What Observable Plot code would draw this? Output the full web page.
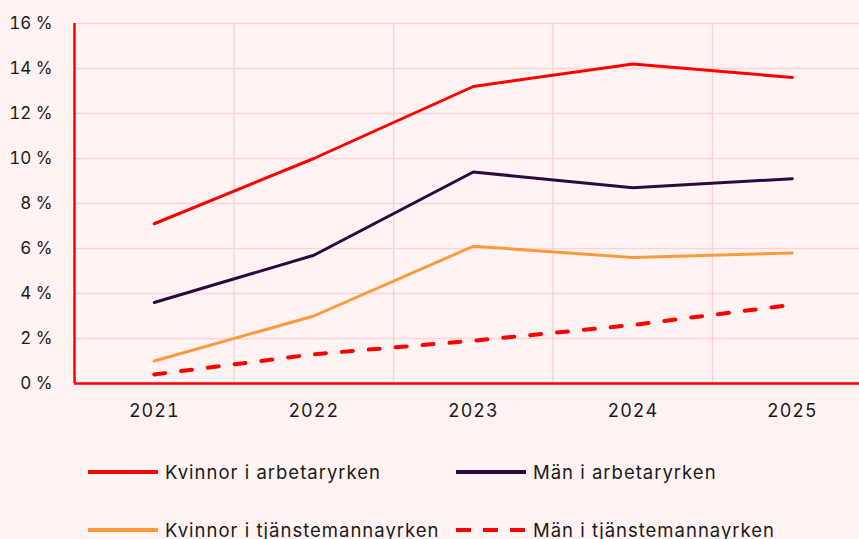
<!DOCTYPE html>
<html>
<head>
<meta charset="utf-8">
<script src="https://cdn.jsdelivr.net/npm/d3@7"></script>
<script src="https://cdn.jsdelivr.net/npm/@observablehq/plot@0.6"></script>
<style>
  html, body { margin: 0; padding: 0; background: #fff4f3; overflow: hidden; }
  body { width: 859px; height: 539px; font-family: Inter, "Noto Sans", sans-serif; color: #1a1a1a; }
  #legend { display: grid; grid-template-columns: 368px auto; grid-auto-rows: 58px; padding-left: 88px; margin-top: 3px; }
  .item { display: flex; align-items: center; font-size: 18.5px; letter-spacing: 1px; height: 58px; white-space: nowrap; }
  .item svg { margin-right: 7px; flex: none; }
</style>
</head>
<body>
<div id="chart"></div>
<div id="legend"></div>
<script>
const years = [2021, 2022, 2023, 2024, 2025];
const seriesNames = ["Kvinnor i arbetaryrken", "Män i arbetaryrken", "Kvinnor i tjänstemannayrken", "Män i tjänstemannayrken"];
const kvinnorArbetar = [7.1, 10.0, 13.2, 14.2, 13.6];
const manArbetar = [3.6, 5.7, 9.4, 8.7, 9.1];
const kvinnorTjanst = [1.0, 3.0, 6.1, 5.6, 5.8];
const manTjanst = [0.4, 1.3, 1.9, 2.6, 3.5];
const yTicks = [0, 2, 4, 6, 8, 10, 12, 14, 16];

const colors = ["#ff0000", "#2b0a3d", "#ff9a3c", "#ff0000"];
const dashes = [null, null, null, "11,16"];
const widths = [3, 3, 3, 4];
const valuesList = [kvinnorArbetar, manArbetar, kvinnorTjanst, manTjanst];

const data = [];
seriesNames.forEach((s, i) => years.forEach((y, j) => data.push({series: s, year: y, value: valuesList[i][j]})));
const gridX = years.slice(0, -1).map(y => y + 0.5);

const lineMarks = seriesNames.map((s, i) => Plot.line(data.filter(d => d.series === s), {
  x: "year", y: "value", stroke: colors[i], strokeWidth: widths[i],
  strokeDasharray: dashes[i] || undefined, strokeLinecap: "round", strokeLinejoin: "round"
}));

const chart = Plot.plot({
  width: 859,
  height: 440,
  marginTop: 23,
  marginBottom: 57,
  marginLeft: 74,
  marginRight: 0,
  style: {background: "transparent", fontFamily: "Inter, 'Noto Sans', sans-serif", color: "#1a1a1a", overflow: "visible"},
  x: {domain: [2020.5, 2025.5], range: [74, 871.6], ticks: years, tickFormat: d => String(d), tickSize: 0, tickPadding: 20, label: null},
  y: {domain: [0, 16], ticks: yTicks, tickFormat: d => d + " %", tickSize: 0, tickPadding: 21, label: null},
  marks: [
    Plot.ruleY(yTicks.filter(d => d > 0), {stroke: "#fdd3d3", strokeWidth: 1.5}),
    Plot.ruleX(gridX, {stroke: "#fdd3d3", strokeWidth: 1.5}),
    Plot.axisX({ticks: years, tickFormat: d => String(d), tickSize: 0, tickPadding: 21, fontSize: 18, label: null}),
    Plot.axisY({ticks: yTicks, tickFormat: d => d + " %", tickSize: 0, tickPadding: 22, fontSize: 17, label: null}),
    ...lineMarks,
    Plot.ruleX([2020.5], {stroke: "#ff0000", strokeWidth: 2.5}),
    Plot.ruleY([0], {stroke: "#ff0000", strokeWidth: 2.5})
  ]
});
d3.select(chart).selectAll("g[aria-label='x-axis tick label'] text").attr("letter-spacing", "1px");
document.getElementById("chart").appendChild(chart);

const legend = document.getElementById("legend");
seriesNames.forEach((s, i) => {
  const item = document.createElement("div");
  item.className = "item";
  const dash = dashes[i] ? `stroke-dasharray="15,12"` : "";
  item.innerHTML = `<svg width="70" height="6"><line x1="0" y1="3" x2="70" y2="3" stroke="${colors[i]}" stroke-width="4" ${dash}></line></svg><span>${s}</span>`;
  legend.appendChild(item);
});
</script>
</body>
</html>
